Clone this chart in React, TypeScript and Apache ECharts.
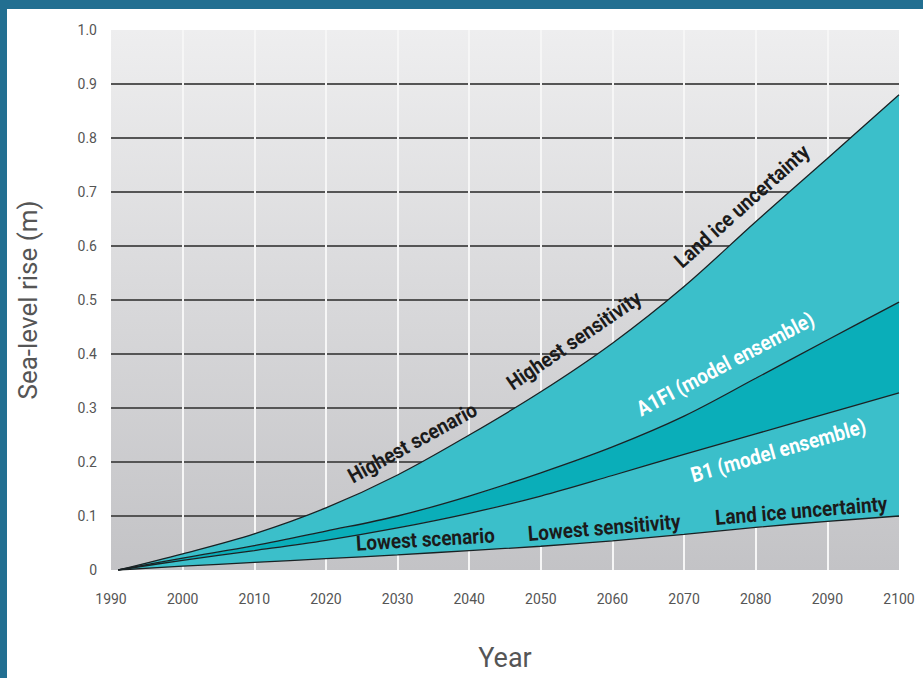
import React, { useEffect, useRef } from "react";
import * as echarts from "echarts";

const years = [1991, 2000, 2010, 2020, 2030, 2040, 2050, 2060, 2070, 2080, 2090, 2100];
const upperScenario = [0, 0.03, 0.067, 0.115, 0.176, 0.25, 0.33, 0.42, 0.525, 0.645, 0.762, 0.88];
const a1fiEnsemble = [0, 0.022, 0.045, 0.072, 0.1, 0.137, 0.18, 0.228, 0.285, 0.355, 0.426, 0.496];
const b1Ensemble = [0, 0.018, 0.036, 0.055, 0.078, 0.105, 0.137, 0.175, 0.214, 0.252, 0.29, 0.328];
const lowerScenario = [0, 0.007, 0.014, 0.021, 0.028, 0.036, 0.044, 0.054, 0.066, 0.079, 0.09, 0.1];

const xTicks = [1990, 2000, 2010, 2020, 2030, 2040, 2050, 2060, 2070, 2080, 2090, 2100];
const yTicks = [0, 0.1, 0.2, 0.3, 0.4, 0.5, 0.6, 0.7, 0.8, 0.9, 1.0];

const curves: Record<string, number[]> = {
  upper: upperScenario,
  a1fi: a1fiEnsemble,
  b1: b1Ensemble,
  lower: lowerScenario,
};

const curveLabels = [
  { text: "Highest scenario", curve: "upper", year: 2033.5, offset: 21, color: "#1b1b1b" },
  { text: "Highest sensitivity", curve: "upper", year: 2056.5, offset: 24, color: "#1b1b1b" },
  { text: "Land ice uncertainty", curve: "upper", year: 2080, offset: 21, color: "#1b1b1b" },
  { text: "A1FI (model ensemble)", curve: "a1fi", year: 2077.5, offset: 27, color: "#ffffff" },
  { text: "B1 (model ensemble)", curve: "b1", year: 2082.3, offset: -22, color: "#ffffff" },
  { text: "Lowest scenario", curve: "lower", year: 2034, offset: 14, color: "#1b1b1b" },
  { text: "Lowest sensitivity", curve: "lower", year: 2059, offset: 14, color: "#1b1b1b" },
  { text: "Land ice uncertainty", curve: "lower", year: 2086.5, offset: 13, color: "#1b1b1b" },
];

const FONT = 'Roboto, "Liberation Sans", sans-serif';

function interp(arr: number[], yr: number): number {
  for (let i = 0; i < years.length - 1; i++) {
    if (yr >= years[i] && yr <= years[i + 1]) {
      const t = (yr - years[i]) / (years[i + 1] - years[i]);
      return arr[i] + t * (arr[i + 1] - arr[i]);
    }
  }
  return arr[arr.length - 1];
}

export default function App() {
  const ref = useRef<HTMLDivElement>(null);

  useEffect(() => {
    if (!ref.current) return;
    const chart = echarts.init(ref.current, undefined, { renderer: "svg" });

    // data as [value, year] so that the stacked dimension is the y value
    const band = (a: number[], b: number[] | null) =>
      years.map((y, i) => [+(a[i] - (b ? b[i] : 0)).toFixed(4), y]);
    const lineStyle = { color: "#1a2224", width: 1.3 };
    const lightTeal = "#3bbfca";
    const darkTeal = "#0aaeb9";

    const base = {
      type: "line",
      stack: "sea",
      smooth: 0.35,
      symbol: "none",
      lineStyle,
      encode: { x: 1, y: 0 },
      z: 3,
    };

    const borders = [
      { type: "rect", shape: { x: 0, y: 0, width: 923, height: 9 }, style: { fill: "#226f91" }, z: 10 },
      { type: "rect", shape: { x: 0, y: 0, width: 7, height: 678 }, style: { fill: "#226f91" }, z: 10 },
    ];

    chart.setOption({
      animation: false,
      backgroundColor: "#ffffff",
      grid: {
        left: 111,
        right: 24,
        top: 30,
        bottom: 108,
        outerBoundsMode: "none",
        containLabel: false,
        show: true,
        borderWidth: 0,
        backgroundColor: new echarts.graphic.LinearGradient(0, 0, 0, 1, [
          { offset: 0, color: "#eeeeef" },
          { offset: 1, color: "#c3c3c6" },
        ]),
      },
      xAxis: {
        type: "value",
        min: xTicks[0],
        max: xTicks[xTicks.length - 1],
        interval: 10,
        axisLine: { show: false },
        axisTick: { show: false },
        axisLabel: { color: "#555", fontSize: 14, fontFamily: FONT, margin: 22, formatter: (v: number) => String(v) },
        splitLine: { show: true, showMinLine: false, showMaxLine: false, lineStyle: { color: "#f6f6f6", width: 2 } },
        name: "Year",
        nameLocation: "middle",
        nameGap: 74,
        nameTextStyle: { color: "#555", fontSize: 27, fontFamily: FONT },
      },
      yAxis: {
        type: "value",
        min: yTicks[0],
        max: yTicks[yTicks.length - 1],
        interval: 0.1,
        axisLine: { show: false },
        axisTick: { show: false },
        axisLabel: {
          color: "#555",
          fontSize: 14,
          fontFamily: FONT,
          margin: 14,
          formatter: (v: number) => (v === 0 ? "0" : v.toFixed(1)),
        },
        splitLine: { show: true, showMinLine: false, showMaxLine: false, lineStyle: { color: "#555555", width: 2 } },
        name: "Sea-level rise (m)",
        nameLocation: "middle",
        nameGap: 70,
        nameTextStyle: { color: "#555", fontSize: 26, fontFamily: FONT },
      },
      series: [
        { ...base, name: "Lower", data: band(lowerScenario, null) },
        { ...base, name: "B1", data: band(b1Ensemble, lowerScenario), areaStyle: { color: lightTeal, opacity: 1 } },
        { ...base, name: "A1FI", data: band(a1fiEnsemble, b1Ensemble), areaStyle: { color: darkTeal, opacity: 1 } },
        { ...base, name: "Upper", data: band(upperScenario, a1fiEnsemble), areaStyle: { color: lightTeal, opacity: 1 } },
      ],
      graphic: borders,
    });

    const texts = curveLabels.map((l) => {
      const arr = curves[l.curve];
      const p = chart.convertToPixel({ gridIndex: 0 }, [l.year, interp(arr, l.year)]) as number[];
      const p1 = chart.convertToPixel({ gridIndex: 0 }, [l.year - 4, interp(arr, l.year - 4)]) as number[];
      const p2 = chart.convertToPixel({ gridIndex: 0 }, [l.year + 4, interp(arr, l.year + 4)]) as number[];
      const ang = Math.atan2(p1[1] - p2[1], p2[0] - p1[0]);
      const nx = -Math.sin(ang);
      const ny = -Math.cos(ang);
      return {
        type: "text",
        x: p[0] + nx * l.offset,
        y: p[1] + ny * l.offset,
        rotation: ang,
        scaleX: 0.9,
        z: 20,
        style: {
          text: l.text,
          fill: l.color,
          font: `bold 21px ${FONT}`,
          align: "center",
          verticalAlign: "middle",
        },
      };
    });

    chart.setOption({ graphic: [...borders, ...texts] });

    return () => chart.dispose();
  }, []);

  return (
    <div
      ref={ref}
      style={{ position: "absolute", left: 0, top: 0, width: 923, height: 678, background: "#fff" }}
    />
  );
}
